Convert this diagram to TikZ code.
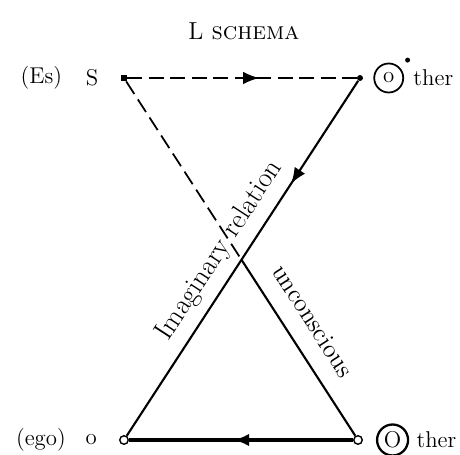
\documentclass[tikz,border=0pt]{standalone}
\usepackage{tikz}
\usetikzlibrary{positioning,arrows.meta,decorations.markings}

\begin{document}
\begin{tikzpicture}[
        x=0.02cm, y=-0.02cm,
        lbl/.style={inner sep=0pt, font=\fontsize{13}{15}\selectfont},
        sqdot/.style={fill, inner sep=0pt, minimum size=0.12cm},
        fdot/.style={circle, fill, inner sep=0pt, minimum size=0.12cm},
        odot/.style={circle, draw, fill=white, line width=0.8pt, inner sep=0pt, minimum size=0.17cm},
        ring/.style={circle, draw, line width=1pt, inner sep=0pt, minimum size=0.58cm, font=\fontsize{13}{15}\selectfont},
        fullline/.style={line width=1.2pt},
        thickline/.style={line width=1.8pt},
        dashline/.style={line width=1pt, dash pattern=on 0.3cm off 0.13cm},
        midarrow/.style={postaction={decorate}, decoration={markings, mark=at position #1 with {\arrow{Latex[length=0.32cm,width=0.25cm]}}}}
    ]
        \useasboundingbox (0,0) rectangle (460,455);
        \node[lbl, font=\fontsize{14}{16}\selectfont] (title) at (244,31) {L \textsc{schema}};

        \node[sqdot] (S) at (124,78) {};
        \node[fdot] (oth) at (360,78) {};
        \node[odot] (ego) at (124,440) {};
        \node[odot] (Oth) at (358,440) {};

        \node[lbl, left=0.44cm of S] (Slbl) {S};
        \node[lbl, left=0.46cm of Slbl] (es) {(Es)};
        \node[lbl, left=0.44cm of ego] (olbl) {o};
        \node[lbl, left=0.38cm of olbl] (egolbl) {(ego)};
        \node[ring, right=0.2cm of oth] (oring) {o};
        \node[fdot, minimum size=0.1cm] (prime) at ([xshift=0.16cm, yshift=0.14cm]oring.north east) {};
        \node[lbl, right=0.18cm of oring] (othlbl) {ther};
        \node[ring, line width=1.3pt, minimum size=0.62cm, right=0.26cm of Oth] (Oring) {O};
        \node[lbl, right=0.14cm of Oring] (Othlbl) {ther};

        \coordinate (X) at (intersection of S.center--Oth.center and oth.center--ego.center);

        \draw[dashline, midarrow=0.575] (S) -- (oth);
        \draw[fullline, midarrow=0.29] (oth) -- (ego);
        \path (ego) -- node[lbl, font=\fontsize{16}{18}\selectfont, sloped, above=0.2cm, pos=0.486] (imag) {Imaginary relation} (oth);
        \draw[dashline] (S) -- (X);
        \draw[fullline] (X) -- node[lbl, font=\fontsize{14.5}{17}\selectfont, sloped, above=0.35cm, pos=0.43] (uncon) {unconscious} (Oth);
        \draw[thickline, midarrow=0.535] (Oth) -- (ego);
    \end{tikzpicture}
\end{document}
